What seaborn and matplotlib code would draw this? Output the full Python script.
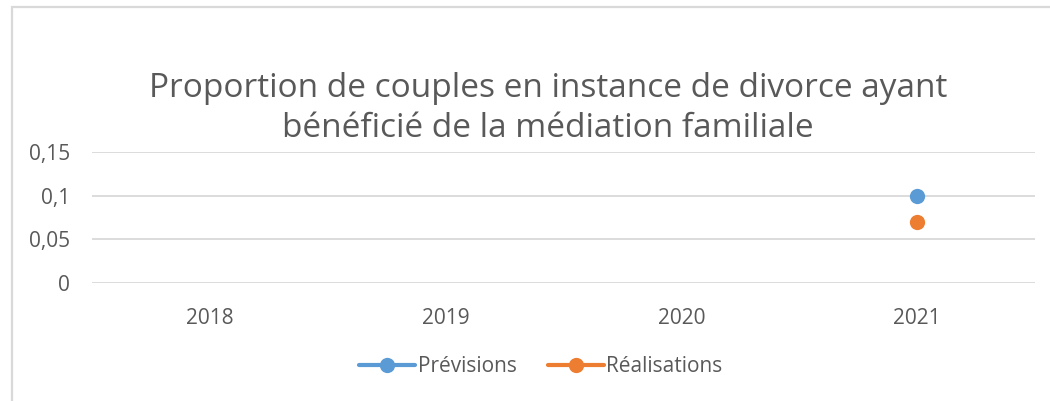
import matplotlib
matplotlib.use("Agg")
import matplotlib.pyplot as plt
import seaborn as sns, pandas as pd, numpy as np
from matplotlib.patches import Rectangle
from matplotlib.ticker import FuncFormatter

annees = ["2018", "2019", "2020", "2021"]
previsions = [np.nan, np.nan, np.nan, 0.10]
realisations = [np.nan, np.nan, np.nan, 0.07]
series = ["Prévisions", "Réalisations"]
couleurs = ["#5B9BD5", "#ED7D31"]
titre = "Proportion de couples en instance de divorce ayant\nbénéficié de la médiation familiale"

df = pd.DataFrame({"Année": annees * 2,
                   "Valeur": previsions + realisations,
                   "Série": [series[0]] * 4 + [series[1]] * 4})

sns.set_style("white")
plt.rcParams['font.family'] = ['Open Sans', 'DejaVu Sans']
gris = "#595959"

fig = plt.figure(figsize=(10.5, 4.01), dpi=100)
ax = fig.add_axes([0.0876, 0.2943, 0.8981, 0.3266])

sns.pointplot(data=df, x="Année", y="Valeur", hue="Série", order=annees, hue_order=series,
              palette=couleurs, markers="o", linestyles="-", errorbar=None, ax=ax,
              markersize=11, markeredgewidth=0, linewidth=3)

ax.set_ylim(0, 0.15)
ax.set_xlim(-0.5, 3.5)
ax.set_yticks([0, 0.05, 0.1, 0.15])
ax.yaxis.set_major_formatter(FuncFormatter(lambda v, p: ("%g" % round(v, 2)).replace(".", ",")))
ax.grid(axis="y", color="#D9D9D9", lw=1.3)
ax.set_axisbelow(True)
for s in ax.spines.values():
    s.set_visible(False)
ax.tick_params(axis="both", length=0, labelsize=15, colors=gris)
ax.tick_params(axis="x", pad=18)
ax.tick_params(axis="y", pad=16)
ax.set_xlabel("")
ax.set_ylabel("")

h, l = ax.get_legend_handles_labels()
ax.legend_.remove()
fig.legend(h, l, loc="center", bbox_to_anchor=(0.515, 0.085), ncol=2, frameon=False,
           fontsize=15, labelcolor=gris, handlelength=2.7, handletextpad=0.1, columnspacing=1.5)

fig.text(0.522, 0.729, titre, ha="center", va="center", fontsize=24, color=gris, linespacing=1.3)

fig.patches.append(Rectangle((11.5 / 1050, -0.1), 1.2, 1 - 6.5 / 401 + 0.1, transform=fig.transFigure,
                             fill=False, ec="#D9D9D9", lw=1.6))

fig.savefig("out.png", dpi=100)
